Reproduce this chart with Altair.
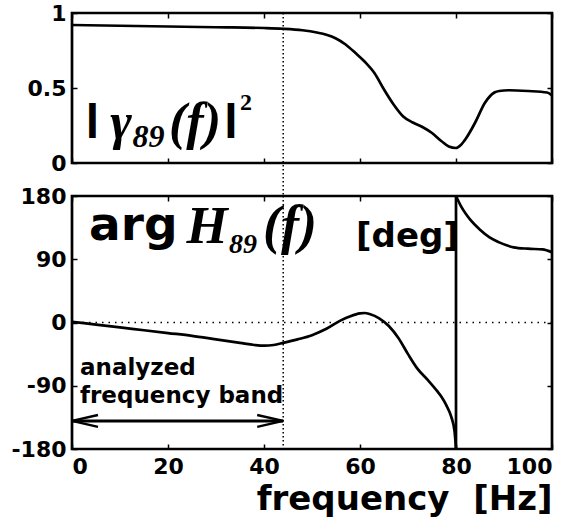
import altair as alt
import pandas as pd

# ---------------- data ----------------
coh_f = [0, 10, 20, 30, 40, 44, 48, 51, 53, 55, 57, 59, 61, 63, 65, 67, 69, 71, 73, 75, 77, 78.5, 80, 81, 82, 84, 86, 88, 89, 91, 95, 99, 100]
coh_v = [0.92, 0.915, 0.91, 0.905, 0.9, 0.895, 0.885, 0.87, 0.855, 0.83, 0.79, 0.735, 0.675, 0.6, 0.49, 0.39, 0.31, 0.27, 0.24, 0.2, 0.145, 0.11, 0.1, 0.12, 0.16, 0.27, 0.4, 0.47, 0.48, 0.485, 0.48, 0.47, 0.45]

ph_f = [0, 5, 10, 15, 20, 25, 30, 35, 38, 40, 42, 44, 47, 50, 53, 56, 58, 60, 61, 62, 64, 66, 68, 70, 72, 74, 76, 77, 78, 79, 79.7, 80,
        80, 80,
        80, 81, 82, 83, 85, 87, 89, 92, 95, 98, 100]
ph_v = [1, -3, -7, -11, -15, -19, -24, -29, -32, -33, -32, -29, -24, -18, -9, 3, 9, 13, 13.5, 12, 6, -5, -22, -45, -66, -81, -97, -106, -118, -134, -155, -180,
        -180, 180,
        180, 166, 155, 146, 132, 121, 114, 107, 105, 104, 100]
ph_seg = ["a"] * 32 + ["jump"] * 2 + ["b"] * 11

x_ticks = [0, 20, 40, 60, 80, 100]
coh_ticks = [0, 0.5, 1]
ph_ticks = [-180, -90, 0, 90, 180]
band_edge = [44]
zero_line = [0]
arrow_start = [0]
arrow_end = [44]
arrow_level = [-140]

coh_label = ["l", "γ", "89", "(f)", "l", "2"]
ph_label = ["arg", "H", "89", "(f)", "[deg]"]
band_label = ["analyzed", "frequency band"]
x_title = "frequency\u00a0\u00a0[Hz]"

W, H1, H2, GAP = 480, 150, 253, 33

coh_df = pd.DataFrame({"f": coh_f, "v": coh_v})
ph_df = pd.DataFrame({"f": ph_f, "v": ph_v, "seg": ph_seg})

TICK = dict(domain=False, grid=False, tickSize=5, offset=-5, tickColor="black", tickWidth=1.5)
LBL = dict(labelFont="DejaVu Sans", labelFontWeight="bold", labelFontSize=22, labelColor="black",
           labelExpr="datum.value < 0 ? '-' + abs(datum.value) : '' + datum.value", **TICK)


def txt(s, x, y, size, font, weight="normal", style="normal", align="left"):
    return alt.Chart(pd.DataFrame({"t": [s]})).mark_text(
        font=font, fontSize=size, fontWeight=weight, fontStyle=style,
        align=align, baseline="alphabetic", color="black"
    ).encode(text="t:N", x=alt.value(x), y=alt.value(y))


# ---------------- top panel ----------------
xs_c = alt.Scale(domain=[0, 100], nice=False, zero=False)
ys_c = alt.Scale(domain=[0, 1], nice=False)

coh_line = alt.Chart(coh_df).mark_line(interpolate="monotone", color="black", strokeWidth=2.7).encode(
    x=alt.X("f:Q", scale=xs_c, axis=alt.Axis(orient="bottom", values=x_ticks, labels=False, title=None, **TICK)),
    y=alt.Y("v:Q", scale=ys_c, axis=alt.Axis(orient="left", values=coh_ticks, title=None, labelPadding=6, **LBL)),
)
coh_ghost = alt.Chart(coh_df).mark_line(opacity=0).encode(
    x=alt.X("f:Q", scale=xs_c, axis=alt.Axis(orient="top", values=x_ticks, labels=False, title=None, **TICK)),
    y=alt.Y("v:Q", scale=ys_c, axis=alt.Axis(orient="right", values=coh_ticks, labels=False, title=None, **TICK)),
)
coh_band = alt.Chart(pd.DataFrame({"x": band_edge})).mark_rule(
    color="black", strokeWidth=1.5, strokeDash=[1.5, 2.5]
).encode(x=alt.X("x:Q", scale=xs_c, axis=None), y=alt.value(0), y2=alt.value(H1 + GAP))

top = alt.layer(
    coh_band, coh_line, coh_ghost,
    txt(coh_label[0], 20.5, 125, 48, "Liberation Sans", weight="bold", align="center"),
    txt(coh_label[1], 49, 126, 52, "Liberation Serif", weight="bold", style="italic", align="center"),
    txt(coh_label[2], 76.5, 134, 32, "Liberation Serif", weight="bold", style="italic", align="center"),
    txt(coh_label[3], 123, 126, 52, "Liberation Serif", weight="bold", style="italic", align="center"),
    txt(coh_label[4], 159, 125, 48, "Liberation Sans", weight="bold", align="center"),
    txt(coh_label[5], 174, 97, 24, "Liberation Serif", weight="bold", align="center"),
).resolve_axis(x="independent", y="independent").properties(width=W, height=H1)

# ---------------- bottom panel ----------------
xs_p = alt.Scale(domain=[0, 100], nice=False, zero=False)
ys_p = alt.Scale(domain=[-180, 180], nice=False)

ph_line = alt.Chart(ph_df).mark_line(interpolate="monotone", color="black", strokeWidth=2.7).encode(
    x=alt.X("f:Q", scale=xs_p, axis=alt.Axis(orient="bottom", values=x_ticks, title=x_title, labelPadding=7,
                                               titleFont="DejaVu Sans", titleFontWeight="bold", titleFontSize=34,
                                               titleColor="black", titleAnchor="end", titleAlign="right", titlePadding=5, **LBL)),
    y=alt.Y("v:Q", scale=ys_p, axis=alt.Axis(orient="left", values=ph_ticks, title=None, labelPadding=6, **LBL)),
    detail="seg:N",
)
ph_ghost = alt.Chart(ph_df).mark_line(opacity=0).encode(
    x=alt.X("f:Q", scale=xs_p, axis=alt.Axis(orient="top", values=x_ticks, labels=False, title=None, **TICK)),
    y=alt.Y("v:Q", scale=ys_p, axis=alt.Axis(orient="right", values=ph_ticks, labels=False, title=None, **TICK)),
    detail="seg:N",
)
ph_band = alt.Chart(pd.DataFrame({"x": band_edge})).mark_rule(
    color="black", strokeWidth=1.5, strokeDash=[1.5, 2.5]
).encode(x=alt.X("x:Q", scale=xs_p, axis=None))
ph_zero = alt.Chart(pd.DataFrame({"y": zero_line})).mark_rule(
    color="black", strokeWidth=1.5, strokeDash=[1.5, 5]
).encode(y=alt.Y("y:Q", scale=ys_p, axis=None))

arrow_df = pd.DataFrame({"x0": arrow_start, "x1": arrow_end, "y": arrow_level})
arrow_shaft = alt.Chart(arrow_df).mark_rule(color="black", strokeWidth=3).encode(
    x=alt.X("x0:Q", scale=xs_p, axis=None), x2="x1:Q", y=alt.Y("y:Q", scale=ys_p, axis=None))
head_l = alt.Chart(arrow_df).mark_point(
    shape="M2,-0.46 L0,0 L2,0.46", size=676, filled=False, color="black", strokeWidth=2.5, opacity=1
).encode(x=alt.X("x0:Q", scale=xs_p, axis=None), y=alt.Y("y:Q", scale=ys_p, axis=None))
head_r = alt.Chart(arrow_df).mark_point(
    shape="M-2,-0.46 L0,0 L-2,0.46", size=676, filled=False, color="black", strokeWidth=2.5, opacity=1
).encode(x=alt.X("x1:Q", scale=xs_p, axis=None), y=alt.Y("y:Q", scale=ys_p, axis=None))

bottom = alt.layer(
    ph_zero, ph_band, ph_line, ph_ghost, arrow_shaft, head_l, head_r,
    txt(ph_label[0], 17, 44, 47, "DejaVu Sans", weight="bold"),
    txt(ph_label[1], 135, 47, 53, "Liberation Serif", weight="bold", style="italic", align="center"),
    txt(ph_label[2], 171, 57, 28, "Liberation Serif", weight="bold", style="italic", align="center"),
    txt(ph_label[3], 218, 47, 54, "Liberation Serif", weight="bold", style="italic", align="center"),
    txt(ph_label[4], 284, 51, 34, "DejaVu Sans", weight="bold"),
    txt(band_label[0], 8, 179, 23, "DejaVu Sans", weight="bold"),
    txt(band_label[1], 8, 207, 23, "DejaVu Sans", weight="bold"),
).resolve_axis(x="independent", y="independent").properties(width=W, height=H2)

chart = alt.vconcat(top, bottom, spacing=GAP, bounds="flush").properties(
    padding={"left": 9, "top": 0, "right": 2, "bottom": 4}, background="white"
).configure_view(stroke="black", strokeWidth=2.7).configure_axis(grid=False)

chart.save("out.html", embed_options={"renderer": "svg", "actions": False})
